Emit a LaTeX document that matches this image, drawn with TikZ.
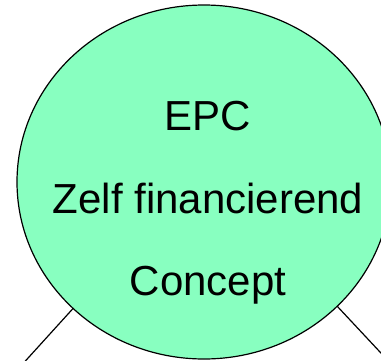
\documentclass[tikz,border=0pt]{standalone}
\usepackage{fontspec}
\setmainfont{Liberation Sans}
\usetikzlibrary{shapes.geometric}
\definecolor{mintfill}{HTML}{88FFC0}
\begin{document}
\begin{tikzpicture}[y=1pt, x=1pt, yscale=-1, inner sep=0pt, outer sep=0pt,
  bubble/.style={ellipse, draw=black, fill=mintfill, line width=1.2pt,
    minimum width=374pt, minimum height=354pt},
  bubbletext/.style={anchor=base, font=\fontsize{42}{50}\selectfont},
  leg/.style={draw=black, line width=1.2pt}]
\useasboundingbox (0,0) rectangle (381,360);
\clip (0,0) rectangle (381,360);
  \node[bubble] (epc) at (204,182) {};
  \node[bubbletext] (epcline) at (208,130) {EPC};
  \node[bubbletext] (zelfline) at (208,213) {Zelf financierend};
  \node[bubbletext] (conceptline) at (208,295) {Concept};
  \coordinate (leftleg) at (-20,411);
  \coordinate (rightleg) at (423,398);
  \path[leg] (epc.224) -- (leftleg);
  \path[leg] (epc.-43) -- (rightleg);
\end{tikzpicture}
\end{document}
